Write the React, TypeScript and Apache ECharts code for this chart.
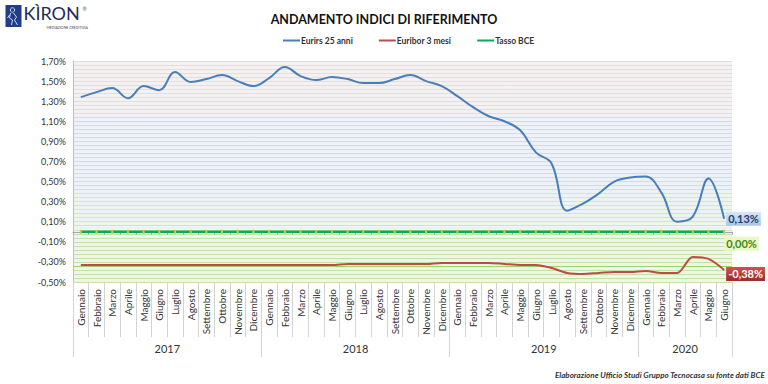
import React, { useEffect, useRef } from 'react';
import * as echarts from 'echarts';

const months = ['Gennaio', 'Febbraio', 'Marzo', 'Aprile', 'Maggio', 'Giugno', 'Luglio', 'Agosto', 'Settembre', 'Ottobre', 'Novembre', 'Dicembre'];
const years = ['2017', '2018', '2019', '2020'];
const monthsPerYear = [12, 12, 12, 6];

const eurirs25 = [
  1.34, 1.39, 1.43, 1.33, 1.45, 1.41, 1.59, 1.49, 1.52, 1.56, 1.50, 1.45,
  1.53, 1.64, 1.55, 1.51, 1.54, 1.52, 1.48, 1.48, 1.52, 1.56, 1.50, 1.45,
  1.35, 1.24, 1.15, 1.10, 1.01, 0.79, 0.68, 0.21, 0.28, 0.38, 0.50, 0.54,
  0.55, 0.39, 0.10, 0.15, 0.53, 0.13,
];
const euribor3m = [
  -0.33, -0.33, -0.33, -0.33, -0.33, -0.33, -0.33, -0.33, -0.33, -0.33, -0.33, -0.33,
  -0.33, -0.33, -0.33, -0.33, -0.33, -0.32, -0.32, -0.32, -0.32, -0.32, -0.32, -0.31,
  -0.31, -0.31, -0.31, -0.32, -0.33, -0.33, -0.36, -0.41, -0.42, -0.41, -0.40, -0.40,
  -0.39, -0.41, -0.41, -0.25, -0.27, -0.38,
];
const tassoBCE = [
  0, 0, 0, 0, 0, 0, 0, 0, 0, 0, 0, 0,
  0, 0, 0, 0, 0, 0, 0, 0, 0, 0, 0, 0,
  0, 0, 0, 0, 0, 0, 0, 0, 0, 0, 0, 0,
  0, 0, 0, 0, 0, 0,
];

const yMin = -0.5;
const yMax = 1.7;
const seriesNames = ['Eurirs 25 anni', 'Euribor 3 mesi', 'Tasso BCE'];
const FONT = 'Lato, "Liberation Sans", sans-serif';

// categories (month per year) and the year-band axis
const categories: string[] = [];
const yearAxisData: string[] = [];
const yearStarts: number[] = [];
years.forEach((y, yi) => {
  const n = monthsPerYear[yi];
  yearStarts.push(categories.length);
  for (let m = 0; m < n; m++) {
    categories.push(months[m]);
    yearAxisData.push(m === n / 2 - 1 ? y : '');
  }
});

const fmtPct = (v: number) => v.toFixed(2).replace('.', ',') + '%';

// decorative stripe colours (bottom to top), one per 0.04 step
const stripeCount = 56;
const stripeColors: string[] = [];
for (let k = 0; k < stripeCount; k++) {
  const v = yMin + 0.04 * k;
  let c;
  if (k === 4) c = '#9bd46a';
  else if (v < 0) c = '#c2e2aa';
  else if (v < 0.42) c = '#d2e7c8';
  else if (v < 1.18) c = '#d0dbec';
  else c = '#e6dcdc';
  stripeColors.push(c);
}

export default function App() {
  const ref = useRef<HTMLDivElement>(null);

  useEffect(() => {
    document.body.style.margin = '0';
    if (!ref.current) return;
    const chart = echarts.init(ref.current, undefined, { renderer: 'svg' });

    const option: any = {
      animation: false,
      backgroundColor: '#ffffff',
      textStyle: { fontFamily: FONT },
      title: {
        text: 'ANDAMENTO INDICI DI RIFERIMENTO',
        left: 'center',
        top: 8,
        textStyle: { fontFamily: FONT, fontSize: 12.5, fontWeight: 'bold', color: '#111111' },
      },
      legend: {
        top: 36,
        left: 283,
        padding: 0,
        icon: 'rect',
        itemWidth: 17,
        itemHeight: 2,
        itemGap: 26,
        data: [
          { name: seriesNames[0], itemStyle: { color: '#4a7ebb' } },
          { name: seriesNames[1], itemStyle: { color: '#be4b48' } },
          { name: seriesNames[2], itemStyle: { color: '#00b050' } },
        ],
        textStyle: { fontFamily: FONT, fontSize: 8.5, fontWeight: 'bold', color: '#333333', padding: [0, 0, 0, -4] },
      },
      grid: {
        left: 73,
        right: 36,
        top: 61,
        bottom: 102,
        show: true,
        borderWidth: 0,
        backgroundColor: new echarts.graphic.LinearGradient(0, 0, 0, 1, [
          { offset: 0, color: '#f4f2f2' },
          { offset: 0.45, color: '#eff1f6' },
          { offset: 0.75, color: '#eef3ee' },
          { offset: 1, color: '#edf6e8' },
        ]),
      },
      xAxis: [
        {
          type: 'category',
          data: categories,
          position: 'bottom',
          boundaryGap: true,
          axisLine: { show: false, onZero: false },
          axisTick: { show: true, interval: 0, length: 55, lineStyle: { color: '#d3d3d3' } },
          axisLabel: { interval: 0, rotate: 90, margin: 7, fontSize: 10, color: '#333333', fontFamily: FONT },
          splitLine: { show: false },
        },
        {
          type: 'category',
          data: yearAxisData,
          position: 'bottom',
          boundaryGap: true,
          axisLine: { show: false, onZero: false },
          axisTick: {
            show: true,
            length: 75,
            interval: (i: number) => yearStarts.indexOf(i) >= 0,
            lineStyle: { color: '#d3d3d3' },
          },
          axisLabel: {
            interval: (i: number, v: string) => v !== '',
            margin: 61,
            fontSize: 11,
            color: '#333333',
            fontFamily: FONT,
            padding: [0, 0, 0, 16],
          },
          splitLine: { show: false },
        },
        {
          type: 'category',
          data: categories,
          position: 'bottom',
          boundaryGap: true,
          axisLine: { show: true, onZero: true, onZeroAxisIndex: 0, lineStyle: { color: '#a6a6a6' } },
          axisTick: { show: true, interval: 0, length: 3, lineStyle: { color: '#a6a6a6' } },
          axisLabel: { show: false },
          splitLine: { show: false },
        },
      ],
      yAxis: [
        {
          type: 'value',
          min: yMin,
          max: yMax,
          interval: 0.1,
          position: 'left',
          axisLine: { show: true, onZero: false, lineStyle: { color: '#bfbfbf' } },
          axisTick: { show: false },
          splitLine: { show: false },
          axisLabel: {
            margin: 7,
            fontSize: 9,
            color: '#333333',
            fontFamily: FONT,
            formatter: (v: number) => (Math.abs(Math.round(v * 10)) % 2 === 1 ? fmtPct(v) : ''),
          },
        },
        {
          type: 'value',
          min: 0,
          max: stripeCount - 1,
          interval: 1,
          position: 'right',
          axisLine: { show: false },
          axisTick: { show: false },
          axisLabel: { show: false },
          splitLine: { show: true, lineStyle: { color: stripeColors, width: 1 } },
        },
      ],
      series: [
        {
          name: seriesNames[0],
          type: 'line',
          data: eurirs25,
          smooth: 0.4,
          symbol: 'none',
          z: 5,
          lineStyle: { color: '#4a7ebb', width: 2 },
          itemStyle: { color: '#4a7ebb' },
          endLabel: {
            show: true,
            distance: 2,
            formatter: (p: any) => fmtPct(p.value),
            fontFamily: FONT,
            fontSize: 11,
            fontWeight: 'bold',
            color: '#1f3f6e',
            padding: [2, 2, 1, 2],
            backgroundColor: new echarts.graphic.LinearGradient(0, 0, 0, 1, [
              { offset: 0, color: '#dbe6f7' },
              { offset: 1, color: '#a9c3ee' },
            ]),
          },
        },
        {
          name: seriesNames[1],
          type: 'line',
          data: euribor3m,
          smooth: 0.3,
          symbol: 'none',
          z: 4,
          lineStyle: { color: '#be4b48', width: 2 },
          itemStyle: { color: '#be4b48' },
          endLabel: {
            show: true,
            distance: 2,
            offset: [0, 4],
            formatter: (p: any) => fmtPct(p.value),
            fontFamily: FONT,
            fontSize: 11,
            fontWeight: 'bold',
            color: '#ffffff',
            padding: [2, 2, 1, 2],
            backgroundColor: new echarts.graphic.LinearGradient(0, 0, 0, 1, [
              { offset: 0, color: '#d0524e' },
              { offset: 1, color: '#a02a27' },
            ]),
          },
        },
        {
          name: seriesNames[2],
          type: 'line',
          data: tassoBCE,
          symbol: 'rect',
          symbolSize: [2, 4],
          showSymbol: true,
          z: 4,
          lineStyle: { color: '#00b050', width: 2.5 },
          itemStyle: { color: '#c9c35a' },
          endLabel: {
            show: true,
            distance: 0,
            offset: [0, 12],
            formatter: (p: any) => fmtPct(p.value),
            fontFamily: FONT,
            fontSize: 11,
            fontWeight: 'bold',
            color: '#3f8a12',
            padding: [2, 2, 1, 2],
            backgroundColor: '#eaf7c6',
          },
        },
      ],
      graphic: [
        {
          type: 'group',
          left: 5,
          top: 4,
          children: [
            { type: 'rect', shape: { x: 0, y: 1, width: 16, height: 22 }, style: { fill: '#1f3d8a' } },
            { type: 'circle', shape: { cx: 7, cy: 6, r: 2.2 }, style: { fill: 'none', stroke: '#ffffff', lineWidth: 0.8 } },
            {
              type: 'polyline',
              shape: { points: [[5, 9], [4, 14], [7, 16], [6, 21]] },
              style: { fill: 'none', stroke: '#ffffff', lineWidth: 0.8 },
            },
            {
              type: 'polyline',
              shape: { points: [[8, 9], [11, 13], [9, 16], [12, 21]] },
              style: { fill: 'none', stroke: '#ffffff', lineWidth: 0.8 },
            },
            {
              type: 'polyline',
              shape: { points: [[4, 11], [2, 14]] },
              style: { fill: 'none', stroke: '#ffffff', lineWidth: 0.8 },
            },
            {
              type: 'text',
              x: 18,
              y: 0,
              style: { text: 'KÌRON', fontFamily: FONT, fontSize: 18, fontWeight: 'normal', fill: '#1c2c5c' },
            },
            {
              type: 'text',
              x: 77,
              y: 2,
              style: { text: '®', fontFamily: FONT, fontSize: 5, fill: '#555555' },
            },
            {
              type: 'text',
              x: 41,
              y: 22,
              style: { text: 'MEDIAZIONE CREDITIZIA', fontFamily: FONT, fontSize: 3.5, fill: '#444444' },
            },
          ],
        },
        {
          type: 'text',
          right: 3,
          top: 371,
          style: {
            text: 'Elaborazione Ufficio Studi Gruppo Tecnocasa su fonte dati BCE',
            fontFamily: FONT,
            fontSize: 8,
            fontWeight: 'bold',
            fontStyle: 'italic',
            fill: '#333333',
          },
        },
      ],
    };

    chart.setOption(option);
    return () => chart.dispose();
  }, []);

  return (
    <div
      ref={ref}
      style={{ position: 'fixed', left: 0, top: 0, width: 768, height: 384 }}
    />
  );
}
